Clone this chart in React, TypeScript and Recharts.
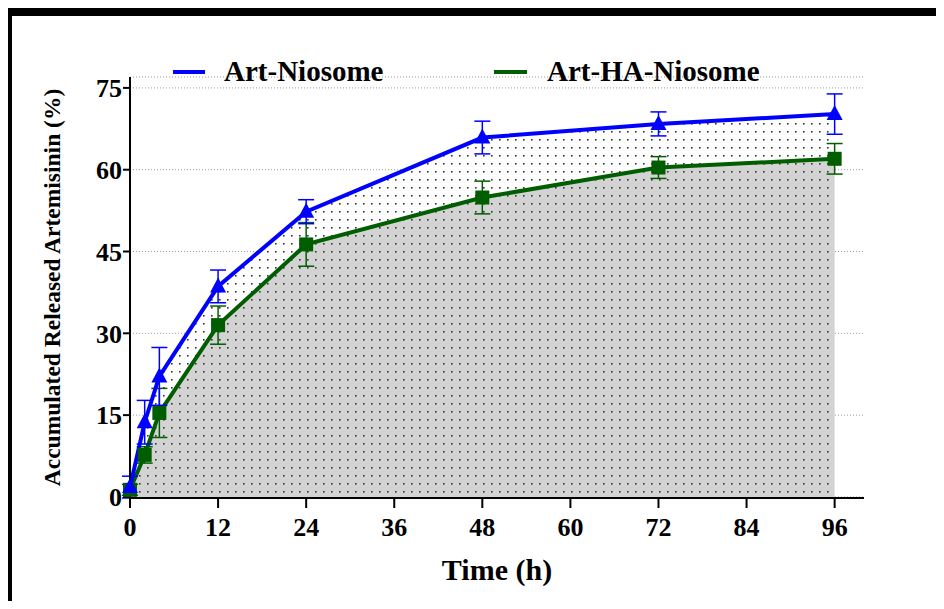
import {
  CartesianGrid,
  ComposedChart,
  Area,
  Line,
  ErrorBar,
  XAxis,
  YAxis,
} from 'recharts'

const hours = [0, 2, 4, 12, 24, 48, 72, 96]
const artNiosome = [1.8, 13.7, 22.1, 38.6, 52.3, 65.9, 68.4, 70.2]
const artNiosomeSd = [2, 4, 5.3, 3, 2.2, 3, 2.2, 3.7]
const artHaNiosome = [1.3, 7.7, 15.4, 31.5, 46.3, 54.9, 60.4, 62]
const artHaNiosomeSd = [1, 1.5, 4.5, 3.5, 4, 3, 2, 2.8]
const xTicks = [0, 12, 24, 36, 48, 60, 72, 84, 96]
const yTicks = [0, 15, 30, 45, 60, 75]

const BLUE = '#0000ff'
const GREEN = '#005e00'
const FONT = "'Liberation Serif', 'Times New Roman', serif"

const data = hours.map((t, i) => ({
  t,
  a: artNiosome[i],
  aErr: artNiosomeSd[i],
  b: artHaNiosome[i],
  bErr: artHaNiosomeSd[i],
}))

function Triangle(props: any) {
  const { cx, cy, index } = props
  if (cx == null || cy == null) return null
  return (
    <polygon
      key={`tri-${index}`}
      points={`${cx},${cy - 9} ${cx - 8},${cy + 6} ${cx + 8},${cy + 6}`}
      fill={BLUE}
    />
  )
}

function Square(props: any) {
  const { cx, cy, index } = props
  if (cx == null || cy == null) return null
  return <rect key={`sq-${index}`} x={cx - 7} y={cy - 7} width={14} height={14} fill={GREEN} />
}

const tickStyle = { fontSize: 26, fontWeight: 'bold', fill: '#000', fontFamily: FONT }

export default function App() {
  return (
    <div
      style={{
        position: 'relative',
        width: 944,
        height: 609,
        margin: -8,
        background: '#fff',
        overflow: 'hidden',
        fontFamily: FONT,
      }}
    >
      {/* frame */}
      <div style={{ position: 'absolute', left: 5, top: 8, width: 939, height: 8, background: '#000' }} />
      <div style={{ position: 'absolute', left: 5, top: 8, width: 7, height: 598, background: '#000' }} />
      <div style={{ position: 'absolute', left: 5, top: 604, width: 939, height: 2, background: '#000' }} />

      <div style={{ position: 'absolute', left: 0, top: 0 }}>
        <ComposedChart
          width={944}
          height={609}
          data={data}
          margin={{ top: 77, right: 80, left: 0, bottom: 71 }}
        >
          <defs>
            <pattern id="dotsWhite" width="8" height="8" patternUnits="userSpaceOnUse">
              <rect width="8" height="8" fill="#ffffff" />
              <rect x="3" y="3" width="1.6" height="1.6" fill="#333" />
            </pattern>
            <pattern id="dotsGray" width="8" height="8" patternUnits="userSpaceOnUse">
              <rect width="8" height="8" fill="#d3d3d3" />
              <rect x="3" y="3" width="1.6" height="1.6" fill="#333" />
            </pattern>
          </defs>
          <CartesianGrid vertical={false} strokeDasharray="1 2" stroke="#999" />
          <XAxis
            type="number"
            dataKey="t"
            domain={[0, 100]}
            ticks={xTicks}
            height={40}
            tick={tickStyle}
            tickSize={10}
            tickMargin={10}
            tickLine={{ stroke: '#000', strokeWidth: 2 }}
            axisLine={{ stroke: '#000', strokeWidth: 2 }}
            label={{
              value: 'Time (h)',
              position: 'bottom',
              offset: 21,
              style: { fontSize: 30, fontWeight: 'bold', fill: '#000', fontFamily: FONT },
            }}
          />
          <YAxis
            type="number"
            domain={[0, 77]}
            ticks={yTicks}
            width={130}
            tick={tickStyle}
            tickSize={7}
            tickMargin={1}
            tickLine={{ stroke: '#000', strokeWidth: 2 }}
            axisLine={{ stroke: '#000', strokeWidth: 2 }}
            label={{
              value: 'Accumulated Released Artemisinin (%)',
              angle: -90,
              position: 'center',
              dx: -13,
              style: { fontSize: 23.5, fontWeight: 'bold', fill: '#000', fontFamily: FONT },
            }}
          />
          <Area
            type="linear"
            dataKey="a"
            stroke="none"
            fill="url(#dotsWhite)"
            fillOpacity={1}
            isAnimationActive={false}
            dot={false}
            activeDot={false}
          />
          <Area
            type="linear"
            dataKey="b"
            stroke="none"
            fill="url(#dotsGray)"
            fillOpacity={1}
            isAnimationActive={false}
            dot={false}
            activeDot={false}
          />
          <Line
            type="linear"
            dataKey="b"
            stroke={GREEN}
            strokeWidth={4}
            dot={Square}
            activeDot={false}
            isAnimationActive={false}
          >
            <ErrorBar dataKey="bErr" width={8} stroke={GREEN} strokeWidth={1.5} direction="y" />
          </Line>
          <Line
            type="linear"
            dataKey="a"
            stroke={BLUE}
            strokeWidth={4}
            dot={Triangle}
            activeDot={false}
            isAnimationActive={false}
          >
            <ErrorBar dataKey="aErr" width={8} stroke={BLUE} strokeWidth={1.5} direction="y" />
          </Line>
        </ComposedChart>
      </div>

      {/* legend */}
      <div style={{ position: 'absolute', left: 173, top: 70, width: 32, height: 4, background: BLUE }} />
      <div
        style={{
          position: 'absolute',
          left: 224,
          top: 54,
          fontSize: 29,
          lineHeight: '34px',
          fontWeight: 'bold',
          whiteSpace: 'nowrap',
        }}
      >
        Art-Niosome
      </div>
      <div style={{ position: 'absolute', left: 494, top: 70, width: 33, height: 4, background: GREEN }} />
      <div
        style={{
          position: 'absolute',
          left: 547,
          top: 54,
          fontSize: 29,
          lineHeight: '34px',
          fontWeight: 'bold',
          whiteSpace: 'nowrap',
        }}
      >
        Art-HA-Niosome
      </div>
    </div>
  )
}
